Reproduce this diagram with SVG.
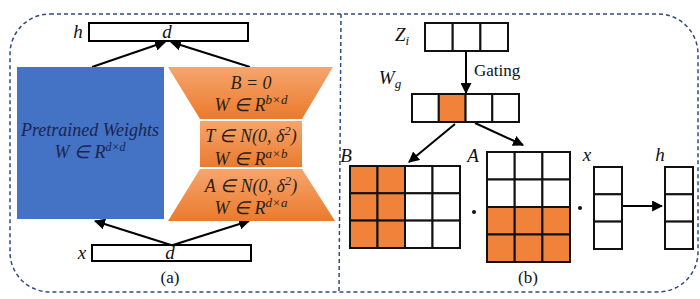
<svg xmlns="http://www.w3.org/2000/svg" width="700" height="299" viewBox="0 0 700 299">
<defs>
<linearGradient id="og" x1="0" y1="0" x2="0" y2="1">
<stop offset="0" stop-color="#F6A56E"/>
<stop offset="1" stop-color="#EB7A2C"/>
</linearGradient>
<marker id="ah" viewBox="0 0 10 10" refX="9" refY="5" markerWidth="11" markerHeight="11" markerUnits="userSpaceOnUse" orient="auto">
<path d="M0,0 L10,5 L0,10 z" fill="#000"/>
</marker>
<style>
.frame{fill:none;stroke:#2F4A86;stroke-width:1.5;stroke-dasharray:4 3}
.box{fill:#fff;stroke:#000;stroke-width:2}
.cell{fill:#fff;stroke:#111;stroke-width:2}
.org{fill:#F0823A;stroke:#111;stroke-width:2}
.arr{stroke:#000;stroke-width:2;fill:none;marker-end:url(#ah)}
.m{font-family:"Liberation Serif","Times New Roman",serif;font-style:italic;fill:#111}
.t{font-family:"Liberation Serif","Times New Roman",serif;fill:#111}
.pw{font-family:"Liberation Serif","Times New Roman",serif;font-style:italic;fill:#1A2550;font-size:18px}
.ot{font-family:"Liberation Serif","Times New Roman",serif;font-style:italic;fill:#2A1E14;font-size:18px}
</style>
</defs>
<g id="frame">
<path class="frame" d="M50,14 L658,14 A40,40 0 0 1 698,54 L698,252 A40,40 0 0 1 658,292 L50,292 A40,40 0 0 1 10,252 L10,54 A40,40 0 0 1 50,14 Z"/>
<line class="frame" x1="341" y1="14" x2="339" y2="292"/>
</g>
<g id="connectors">
<line class="arr" x1="92" y1="67" x2="165" y2="42"/>
<line class="arr" x1="250" y1="67" x2="171" y2="42"/>
<line class="arr" x1="171" y1="245" x2="95" y2="221"/>
<line class="arr" x1="173" y1="245" x2="249" y2="221"/>
<line class="arr" x1="466" y1="51" x2="466" y2="93"/>
<line class="arr" x1="455" y1="124" x2="409" y2="162"/>
<line class="arr" x1="475" y1="123" x2="523" y2="145"/>
<line class="arr" x1="623" y1="206" x2="662" y2="206"/>
</g>
<g id="h-bar">
<rect class="box" x="89" y="23" width="159" height="18"/>
<text class="m" x="167" y="38" font-size="19" text-anchor="middle">d</text>
<text class="m" x="78" y="38" font-size="19" text-anchor="middle">h</text>
</g>
<g id="pretrained">
<rect x="17" y="67" width="147" height="152" fill="#4472C4"/>
<text class="pw" x="90" y="136" text-anchor="middle">Pretrained Weights</text>
<text class="pw" x="90" y="158" text-anchor="middle">W ∈ R<tspan font-size="12" dy="-7">d×d</tspan></text>
</g>
<g id="B-trap">
<polygon points="168,67 333,67 302,119 200,119" fill="url(#og)"/>
<text class="ot" x="251" y="89" text-anchor="middle">B = 0</text>
<text class="ot" x="251" y="111" text-anchor="middle">W ∈ R<tspan font-size="13" dy="-7">b×d</tspan></text>
</g>
<g id="T-rect">
<rect x="200" y="121" width="102" height="46" fill="url(#og)"/>
<text class="ot" x="251" y="142" text-anchor="middle">T ∈ N(0, δ<tspan font-size="13" dy="-7">2</tspan><tspan dy="7">)</tspan></text>
<text class="ot" x="251" y="165" text-anchor="middle">W ∈ R<tspan font-size="13" dy="-7">a×b</tspan></text>
</g>
<g id="A-trap">
<polygon points="200,169 302,169 335,221 168,221" fill="url(#og)"/>
<text class="ot" x="251" y="192" text-anchor="middle">A ∈ N(0, δ<tspan font-size="13" dy="-7">2</tspan><tspan dy="7">)</tspan></text>
<text class="ot" x="251" y="214" text-anchor="middle">W ∈ R<tspan font-size="13" dy="-7">d×a</tspan></text>
</g>
<g id="x-bar">
<rect class="box" x="92" y="245" width="159" height="16"/>
<text class="m" x="170" y="259" font-size="19" text-anchor="middle">d</text>
<text class="m" x="82" y="259" font-size="19" text-anchor="middle">x</text>
</g>
<text class="t" x="170" y="283" font-size="17" text-anchor="middle">(a)</text>
<g id="Zi">
<rect class="cell" x="425" y="23" width="27.7" height="28"/>
<rect class="cell" x="452.7" y="23" width="27.7" height="28"/>
<rect class="cell" x="480.4" y="23" width="27.6" height="28"/>
<text class="m" x="402" y="41" font-size="19" text-anchor="middle">Z<tspan font-size="13" dy="4">i</tspan></text>
</g>
<text class="t" x="474" y="76" font-size="17">Gating</text>
<g id="Wg">
<rect class="cell" x="412" y="94" width="26.8" height="28"/>
<rect class="org" x="438.8" y="94" width="26.8" height="28"/>
<rect class="cell" x="465.6" y="94" width="26.7" height="28"/>
<rect class="cell" x="492.3" y="94" width="26.7" height="28"/>
<text class="m" x="390" y="84" font-size="19" text-anchor="middle">W<tspan font-size="13" dy="4">g</tspan></text>
</g>
<g id="B-matrix">
<rect class="org" x="350" y="166" width="27.5" height="27.3"/>
<rect class="org" x="377.5" y="166" width="27.5" height="27.3"/>
<rect class="cell" x="405" y="166" width="27.5" height="27.3"/>
<rect class="cell" x="432.5" y="166" width="27.5" height="27.3"/>
<rect class="org" x="350" y="193.3" width="27.5" height="27.3"/>
<rect class="org" x="377.5" y="193.3" width="27.5" height="27.3"/>
<rect class="cell" x="405" y="193.3" width="27.5" height="27.3"/>
<rect class="cell" x="432.5" y="193.3" width="27.5" height="27.3"/>
<rect class="org" x="350" y="220.6" width="27.5" height="27.4"/>
<rect class="org" x="377.5" y="220.6" width="27.5" height="27.4"/>
<rect class="cell" x="405" y="220.6" width="27.5" height="27.4"/>
<rect class="cell" x="432.5" y="220.6" width="27.5" height="27.4"/>
<text class="m" x="346" y="162" font-size="19" text-anchor="middle">B</text>
</g>
<circle cx="474" cy="212" r="2" fill="#111"/>
<g id="A-matrix">
<rect class="cell" x="487" y="152" width="27.7" height="27.5"/>
<rect class="cell" x="514.7" y="152" width="27.7" height="27.5"/>
<rect class="cell" x="542.4" y="152" width="27.6" height="27.5"/>
<rect class="cell" x="487" y="179.5" width="27.7" height="27.5"/>
<rect class="cell" x="514.7" y="179.5" width="27.7" height="27.5"/>
<rect class="cell" x="542.4" y="179.5" width="27.6" height="27.5"/>
<rect class="org" x="487" y="207" width="27.7" height="27.5"/>
<rect class="org" x="514.7" y="207" width="27.7" height="27.5"/>
<rect class="org" x="542.4" y="207" width="27.6" height="27.5"/>
<rect class="org" x="487" y="234.5" width="27.7" height="27.5"/>
<rect class="org" x="514.7" y="234.5" width="27.7" height="27.5"/>
<rect class="org" x="542.4" y="234.5" width="27.6" height="27.5"/>
<text class="m" x="473" y="162" font-size="19" text-anchor="middle">A</text>
</g>
<circle cx="580" cy="208" r="2" fill="#111"/>
<g id="x-vec">
<rect class="cell" x="594" y="167" width="28" height="27.3"/>
<rect class="cell" x="594" y="194.3" width="28" height="27.3"/>
<rect class="cell" x="594" y="221.6" width="28" height="27.4"/>
<text class="m" x="587" y="161" font-size="19" text-anchor="middle">x</text>
</g>
<g id="h-vec">
<rect class="cell" x="665" y="167" width="28" height="27.3"/>
<rect class="cell" x="665" y="194.3" width="28" height="27.3"/>
<rect class="cell" x="665" y="221.6" width="28" height="27.4"/>
<text class="m" x="660" y="161" font-size="19" text-anchor="middle">h</text>
</g>
<text class="t" x="528" y="283" font-size="17" text-anchor="middle">(b)</text>
</svg>
